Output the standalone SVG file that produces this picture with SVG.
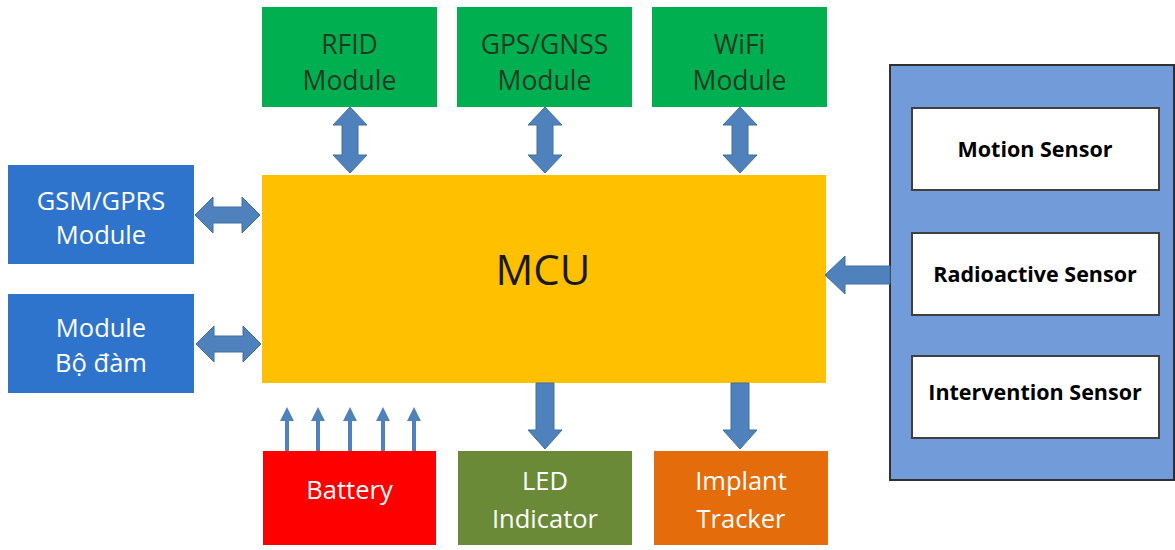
<svg xmlns="http://www.w3.org/2000/svg" width="1175" height="550" viewBox="0 0 1175 550">
<style>
text{font-family:"Open Sans","Noto Sans","Liberation Sans",sans-serif;text-anchor:middle}
.g{fill:#00b050}
.gt{fill:#1f3a22;font-size:26.5px}
.bl{fill:#2f74cc}
.wt{fill:#ffffff;font-size:25.5px}
.arr{fill:#4f81bd;stroke:#41719c;stroke-width:1}
.st{fill:#000;font-size:21.5px;font-weight:bold}
.sb{fill:#ffffff;stroke:#404040;stroke-width:2}
</style>
<defs>
<path id="dv" d="M0,0 L17,18 L8,18 L8,48 L17,48 L0,66 L-17,48 L-8,48 L-8,18 L-17,18 Z"/>
<path id="dh" d="M0,0 L18,-18 L18,-8 L47,-8 L47,-18 L65,0 L47,18 L47,8 L18,8 L18,18 Z"/>
<path id="down" d="M-9,0 L9,0 L9,47 L17,47 L0,66 L-17,47 L-9,47 Z"/>
<path id="up" d="M0,0 L7,14 L2,14 L2,44 L-2,44 L-2,14 L-7,14 Z"/>
</defs>

<g id="rfid"><rect class="g" x="262" y="7" width="175" height="100"/><text class="gt" x="349.5" y="54">RFID</text><text class="gt" x="349.5" y="90">Module</text></g>
<g id="gps"><rect class="g" x="457" y="7" width="175" height="100"/><text class="gt" x="544.5" y="54">GPS/GNSS</text><text class="gt" x="544.5" y="90">Module</text></g>
<g id="wifi"><rect class="g" x="652" y="7" width="175" height="100"/><text class="gt" x="739.5" y="54">WiFi</text><text class="gt" x="739.5" y="90">Module</text></g>

<g id="mcu"><rect fill="#ffc000" x="262" y="175" width="564" height="208"/><text x="543" y="285" style="font-size:42px;fill:#1a1a1a">MCU</text></g>

<g id="gsm"><rect class="bl" x="8" y="165" width="186" height="99"/><text class="wt" x="101" y="210">GSM/GPRS</text><text class="wt" x="101" y="244">Module</text></g>
<g id="bodam"><rect class="bl" x="8" y="294" width="186" height="99"/><text class="wt" x="101" y="337">Module</text><text class="wt" x="101" y="372">Bộ đàm</text></g>

<g id="battery"><rect fill="#ff0000" x="263" y="451" width="173" height="94"/><text class="wt" x="349.5" y="499">Battery</text></g>
<g id="led"><rect fill="#6a8a37" x="458" y="451" width="174" height="94"/><text class="wt" x="545" y="490">LED</text><text class="wt" x="545" y="528">Indicator</text></g>
<g id="implant"><rect fill="#e46c0a" x="654" y="451" width="174" height="94"/><text class="wt" x="741" y="490">Implant</text><text class="wt" x="741" y="528">Tracker</text></g>

<g id="sensors">
<rect fill="#729bd9" stroke="#303030" stroke-width="2" x="890" y="65" width="284" height="415"/>
<g id="motion"><rect class="sb" x="912" y="108" width="247" height="82"/><text class="st" x="1035" y="157">Motion Sensor</text></g>
<g id="radio"><rect class="sb" x="912" y="233" width="247" height="82"/><text class="st" x="1035" y="282">Radioactive Sensor</text></g>
<g id="intervention"><rect class="sb" x="912" y="356" width="247" height="82"/><text class="st" x="1035" y="400">Intervention Sensor</text></g>
</g>

<g id="connectors">
<use href="#dv" class="arr" x="350" y="107"/>
<use href="#dv" class="arr" x="545" y="107"/>
<use href="#dv" class="arr" x="740" y="107"/>
<use href="#dh" class="arr" x="195" y="215"/>
<use href="#dh" class="arr" x="196" y="344"/>
<use href="#down" class="arr" x="545" y="383"/>
<use href="#down" class="arr" x="740" y="383"/>
<path class="arr" d="M825,275 L845,256 L845,266 L890,266 L890,284 L845,284 L845,294 Z"/>
<use href="#up" fill="#4f81bd" x="287" y="407"/>
<use href="#up" fill="#4f81bd" x="318" y="407"/>
<use href="#up" fill="#4f81bd" x="350" y="407"/>
<use href="#up" fill="#4f81bd" x="383" y="407"/>
<use href="#up" fill="#4f81bd" x="414" y="407"/>
</g>
</svg>
